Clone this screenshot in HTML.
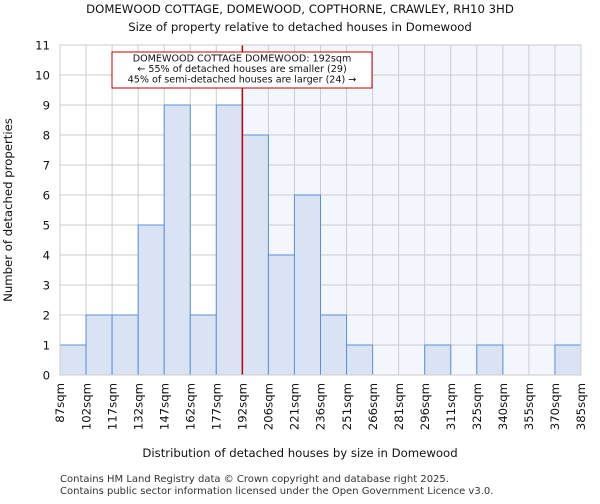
<!DOCTYPE html>
<html><head><meta charset="utf-8"><style>
body{margin:0;background:#fff;font-family:"DejaVu Sans","Liberation Sans",sans-serif}
</style></head><body>
<svg width="600" height="500" xmlns="http://www.w3.org/2000/svg" font-family="DejaVu Sans, Liberation Sans, sans-serif">
<text x="300" y="13" text-anchor="middle" font-size="11.7" fill="#111">DOMEWOOD COTTAGE, DOMEWOOD, COPTHORNE, CRAWLEY, RH10 3HD</text>
<text x="300" y="31" text-anchor="middle" font-size="11.7" fill="#111">Size of property relative to detached houses in Domewood</text>
<g id="plot"></g>
<text x="300" y="457" text-anchor="middle" font-size="11.7" fill="#111">Distribution of detached houses by size in Domewood</text>
<text transform="translate(12,210) rotate(-90)" text-anchor="middle" font-size="11.7" fill="#111">Number of detached properties</text>
<text x="60" y="482" font-size="10" fill="#333">Contains HM Land Registry data © Crown copyright and database right 2025.</text>
<text x="60" y="494" font-size="10" fill="#333">Contains public sector information licensed under the Open Government Licence v3.0.</text>
</svg>
<script>
const categories=["87sqm","102sqm","117sqm","132sqm","147sqm","162sqm","177sqm","192sqm","206sqm","221sqm","236sqm","251sqm","266sqm","281sqm","296sqm","311sqm","325sqm","340sqm","355sqm","370sqm","385sqm"];
const counts=[1,2,2,5,9,2,9,8,4,6,2,1,0,0,1,0,1,0,0,1];
const yTicks=[0,1,2,3,4,5,6,7,8,9,10,11];
const markerIndex=7;
const annotationLines=["DOMEWOOD COTTAGE DOMEWOOD: 192sqm","← 55% of detached houses are smaller (29)","45% of semi-detached houses are larger (24) →"];
const NS="http://www.w3.org/2000/svg";
const g=document.getElementById('plot');
const L=60,R=581,T=45,B=375,yMax=11;
const bw=(R-L)/counts.length;
const xs=i=>L+i*bw;
const ys=v=>B-(v/yMax)*(B-T);
function mk(t,a){const e=document.createElementNS(NS,t);for(const k in a)e.setAttribute(k,a[k]);g.appendChild(e);return e;}
let e;
e=mk('rect',{x:xs(markerIndex),y:T,width:R-xs(markerIndex),height:B-T,fill:'#f3f6fd'});


yTicks.forEach(t=>{
 e=mk('line',{x1:L,x2:R,y1:ys(t),y2:ys(t),stroke:'#cccccc','stroke-width':1});
 
 
 e=mk('text',{x:L-10,y:ys(t)+4.5,'text-anchor':'end','font-size':11.7,fill:'#111'});e.textContent=t;
 
 
});
categories.forEach((c,i)=>{
 e=mk('line',{x1:xs(i),x2:xs(i),y1:T,y2:B,stroke:'#cccccc','stroke-width':1});
 
 
 const x=xs(i);
 e=mk('text',{transform:`translate(${x+4.2},${B+8}) rotate(-90)`,'text-anchor':'end','font-size':11.7,fill:'#111'});e.textContent=c;
 
 
});
counts.forEach((v,i)=>{
 if(v<=0)return;
 e=mk('rect',{x:xs(i),y:ys(v),width:bw,height:B-ys(v),fill:'#dae3f3',stroke:'#5b8fd6','stroke-width':1});
 
 
});
e=mk('line',{x1:xs(markerIndex),x2:xs(markerIndex),y1:T,y2:B,stroke:'#c00000','stroke-width':1.5});


e=mk('rect',{x:112,y:52,width:260,height:36,fill:'#fff',stroke:'#c00000','stroke-width':1});


annotationLines.forEach((s,k)=>{
 e=mk('text',{x:242,y:61.5+k*10.5,'text-anchor':'middle','font-size':9.6,fill:'#111'});e.textContent=s;
 
 
});
e=mk('rect',{x:L,y:T,width:R-L,height:B-T,fill:'none',stroke:'#cccccc'});


</script>
</body></html>
